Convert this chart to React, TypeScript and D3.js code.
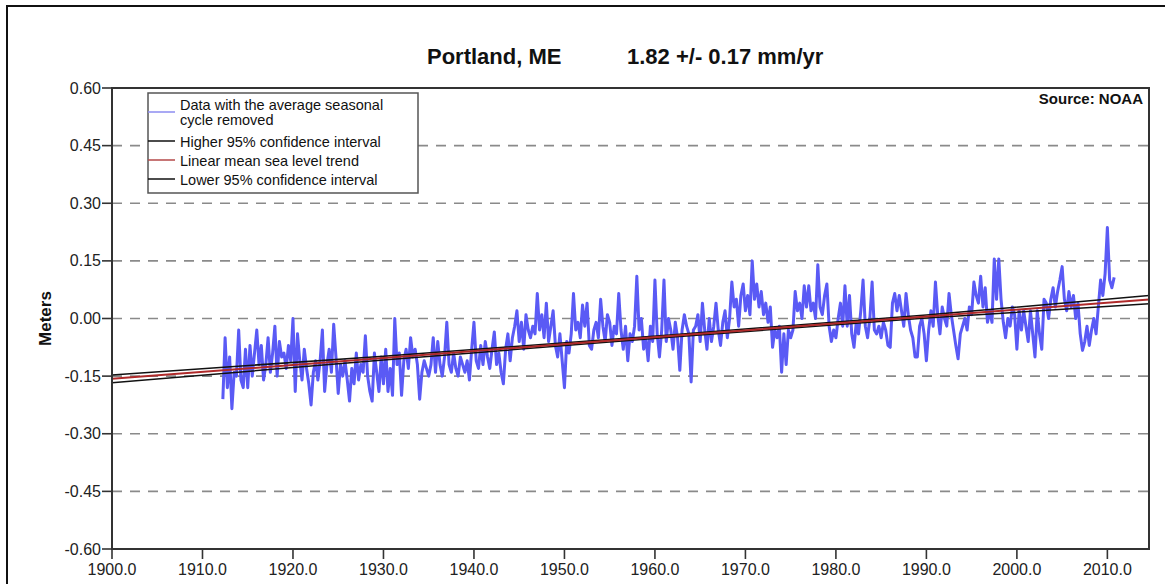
import React from 'react';
import * as d3 from 'd3';

// tide gauge, seasonal cycle removed at quarter-year steps from 1912.25
const startYear = 1912.25;
const stepYears = 0.25;
const seaLevel = [
  -0.21, -0.05, -0.18, // 1912
  -0.10, -0.235, -0.14, -0.15, // 1913
  -0.03, -0.16, -0.18, -0.08,
  -0.18, -0.07, -0.15, -0.09, // 1915
  -0.03, -0.12, -0.07, -0.16,
  -0.12, -0.05, -0.14, -0.09,
  -0.02, -0.15, -0.06, -0.10,
  -0.09, -0.13, -0.07, -0.11,
  0.0, -0.19, -0.04, -0.11, // 1920
  -0.16, -0.08, -0.13, -0.17,
  -0.225, -0.14, -0.11, -0.16,
  -0.11, -0.03, -0.19, -0.12,
  -0.08, -0.14, -0.015, -0.10,
  -0.195, -0.12, -0.15, -0.11, // 1925
  -0.16, -0.215, -0.13, -0.17,
  -0.09, -0.16, -0.12, -0.14,
  -0.045, -0.15, -0.19, -0.215,
  -0.09, -0.14, -0.19, -0.10,
  -0.17, -0.08, -0.19, -0.13, // 1930
  -0.20, 0.0, -0.12, -0.09,
  -0.20, -0.11, -0.08, -0.13,
  -0.05, -0.10, -0.08, -0.12,
  -0.21, -0.14, -0.11, -0.13,
  -0.15, -0.12, -0.05, -0.14, // 1935
  -0.06, -0.12, -0.15, -0.10,
  -0.01, -0.12, -0.14, -0.09,
  -0.13, -0.15, -0.10, -0.12,
  -0.14, -0.11, -0.16, -0.08,
  -0.01, -0.11, -0.13, -0.07, // 1940
  -0.12, -0.06, -0.10, -0.13,
  -0.08, -0.035, -0.12, -0.09,
  -0.14, -0.17, -0.08, -0.04,
  -0.11, -0.05, -0.02, 0.02,
  -0.06, -0.01, -0.08, 0.01, // 1945
  -0.03, -0.05, -0.02, -0.04,
  0.065, -0.03, 0.01, -0.05,
  0.04, -0.06, -0.02, 0.02,
  -0.07, -0.10, -0.04, -0.11,
  -0.18, -0.06, -0.09, -0.04, // 1950
  0.065, -0.03, -0.01, -0.05,
  0.035, -0.02, 0.04, -0.07,
  -0.08, -0.03, -0.01, -0.05,
  0.05, -0.02, -0.06, 0.01,
  -0.01, -0.07, -0.02, -0.04, // 1955
  0.065, -0.03, -0.08, -0.02,
  -0.11, -0.04, -0.06, -0.02,
  0.11, -0.03, 0.0, -0.08,
  -0.05, -0.11, -0.02, -0.06,
  0.10, -0.04, -0.10, -0.03, // 1960
  0.10, -0.06, 0.0, -0.03,
  -0.08, -0.01, -0.05, -0.135,
  -0.03, 0.01, -0.02, -0.04,
  -0.165, -0.03, -0.02, 0.01,
  -0.06, 0.04, -0.03, -0.08, // 1965
  0.0, -0.06, -0.02, 0.04,
  -0.03, -0.07, -0.01, 0.02,
  -0.05, 0.0, 0.095, 0.03,
  0.05, -0.02, 0.06, 0.09,
  0.02, 0.06, 0.01, 0.15, // 1970
  0.05, 0.09, 0.03, 0.07,
  0.01, 0.04, -0.01, 0.03,
  -0.075, -0.03, -0.05, -0.02,
  -0.14, -0.04, -0.12, -0.03,
  -0.05, -0.03, 0.07, 0.02, // 1975
  0.04, 0.0, 0.085, 0.03,
  0.085, 0.02, 0.04, 0.0,
  0.14, 0.03, 0.01, 0.06,
  0.09, -0.02, -0.06, -0.03,
  -0.05, 0.0, 0.04, -0.02, // 1980
  0.085, -0.02, 0.06, -0.04,
  -0.075, -0.01, -0.04, 0.02,
  0.10, -0.02, -0.05, 0.0,
  0.095, -0.03, -0.04, -0.02,
  -0.05, -0.01, -0.03, -0.07, // 1985
  -0.075, 0.04, 0.065, 0.02,
  0.06, 0.02, -0.02, 0.065,
  0.01, -0.03, -0.05, -0.10,
  -0.10, -0.02, 0.0, -0.04,
  -0.11, -0.03, 0.02, -0.02, // 1990
  0.095, 0.01, -0.04, 0.03,
  0.0, -0.02, 0.065, 0.01,
  -0.03, -0.07, -0.105, -0.04,
  -0.02, 0.0, -0.03, 0.03,
  0.01, 0.095, 0.06, 0.04, // 1995
  0.11, 0.03, 0.08, -0.01,
  0.02, -0.01, 0.155, 0.05,
  0.155, 0.05, -0.01, -0.05,
  0.0, -0.02, 0.03, 0.01,
  -0.08, 0.02, -0.03, 0.02, // 2000
  -0.02, -0.06, 0.02, -0.04,
  -0.10, 0.02, -0.04, -0.08,
  0.05, 0.04, 0.0, 0.05,
  0.08, 0.03, 0.07, 0.10,
  0.135, 0.05, 0.02, 0.07, // 2005
  0.03, 0.06, 0.0, 0.04,
  -0.04, -0.083, -0.06, -0.02,
  -0.07, -0.03, 0.0, -0.04,
  0.03, 0.10, 0.06, 0.117,
  0.237, 0.10, 0.08, 0.107, // 2010
];

// trend and its 95% band
const trendYears = [1900, 1930, 1962, 1990, 2015];
const trendMean = [-0.157, -0.103, -0.045, 0.005, 0.05];
const trendHigh = [-0.147, -0.098, -0.042, 0.009, 0.061];
const trendLow = [-0.167, -0.108, -0.048, 0.001, 0.039];

const xTicks = [1900, 1910, 1920, 1930, 1940, 1950, 1960, 1970, 1980, 1990, 2000, 2010];
const yTicks = [-0.6, -0.45, -0.3, -0.15, 0, 0.15, 0.3, 0.45, 0.6];

const legendItems = [
  { label: ['Data with the average seasonal', 'cycle removed'], color: '#8c8cf0' },
  { label: ['Higher 95% confidence interval'], color: '#111' },
  { label: ['Linear mean sea level trend'], color: '#b44848' },
  { label: ['Lower 95% confidence interval'], color: '#111' },
];

const font = 'Liberation Sans, Arial, Helvetica, sans-serif';

export default function App() {
  const width = 1165;
  const height = 584;
  const left = 112, right = 1149, top = 88, bottom = 549;

  const x = d3.scaleLinear().domain([1900, 2014.6]).range([left, right]);
  const y = d3.scaleLinear().domain([-0.6, 0.6]).range([bottom, top]);

  const dataLine = d3.line<number>()
    .x((d, i) => x(startYear + i * stepYears))
    .y(d => y(d));

  const trendLine = (vals: number[]) =>
    d3.line<number>()
      .x((d, i) => x(trendYears[i]))
      .y(d => y(d))(vals) || '';

  const fmtY = (v: number) => v.toFixed(2);
  const fmtX = (v: number) => v.toFixed(1);

  const legendRows = [112, 141, 160, 179];

  return (
    <svg width={width} height={height} style={{ position: 'absolute', left: 0, top: 0, background: '#fff' }}
      fontFamily={font}>
      <rect x={0} y={0} width={width} height={height} fill="#fff" />
      {/* outer frame */}
      <path d={`M7,${height + 10}V6H${width + 10}`} fill="none" stroke="#111" strokeWidth={2} />

      {/* title */}
      <text x={427} y={64} fontSize={22} fontWeight="bold" fill="#111">Portland, ME</text>
      <text x={627} y={64} fontSize={22} fontWeight="bold" fill="#111">1.82 +/- 0.17 mm/yr</text>

      {/* gridlines */}
      {yTicks.filter(t => Math.abs(t) < 0.6).map(t => (
        <line key={t} x1={left} x2={right} y1={y(t)} y2={y(t)}
          stroke="#8a8a8a" strokeWidth={1.6} strokeDasharray="10,8" />
      ))}

      <clipPath id="plot"><rect x={left} y={top} width={right - left} height={bottom - top} /></clipPath>
      <g clipPath="url(#plot)">
        <path d={dataLine(seaLevel) || ''} fill="none" stroke="#5a5af5" strokeWidth={3} strokeLinejoin="round" />
        <path d={trendLine(trendHigh)} fill="none" stroke="#111" strokeWidth={1.5} />
        <path d={trendLine(trendLow)} fill="none" stroke="#111" strokeWidth={1.5} />
        <path d={trendLine(trendMean)} fill="none" stroke="#b02a2a" strokeWidth={2} />
      </g>

      {/* plot frame */}
      <rect x={left} y={top} width={right - left} height={bottom - top} fill="none" stroke="#333" strokeWidth={2} />

      {/* y axis */}
      {yTicks.map(t => (
        <g key={t}>
          <line x1={left - 10} x2={left} y1={y(t)} y2={y(t)} stroke="#333" strokeWidth={1.6} />
          <text x={left - 11} y={y(t)} dy="0.35em" textAnchor="end" fontSize={16} fill="#222">{fmtY(t)}</text>
        </g>
      ))}
      <text transform={`translate(51,${(top + bottom) / 2}) rotate(-90)`} textAnchor="middle"
        fontSize={17} fontWeight="bold" fill="#111">Meters</text>

      {/* x axis */}
      {xTicks.map(t => (
        <g key={t}>
          <line x1={x(t)} x2={x(t)} y1={bottom} y2={bottom + 10} stroke="#333" strokeWidth={1.6} />
          <text x={x(t)} y={575} textAnchor="middle" fontSize={16} fill="#222">{fmtX(t)}</text>
        </g>
      ))}

      <text x={1143} y={104} textAnchor="end" fontSize={15} fontWeight="bold" fill="#111">Source: NOAA</text>

      {/* legend */}
      <rect x={148} y={93} width={270} height={100} fill="#fff" stroke="#555" strokeWidth={1.5} />
      {legendItems.map((item, i) => (
        <g key={i}>
          <line x1={148} x2={175} y1={legendRows[i]} y2={legendRows[i]} stroke={item.color} strokeWidth={1.5} />
          {item.label.map((s, j) => (
            <text key={j} x={180} y={(i === 0 ? 110 : legendRows[i] + 6) + j * 15} fontSize={14.5} fill="#111">{s}</text>
          ))}
        </g>
      ))}
    </svg>
  );
}
